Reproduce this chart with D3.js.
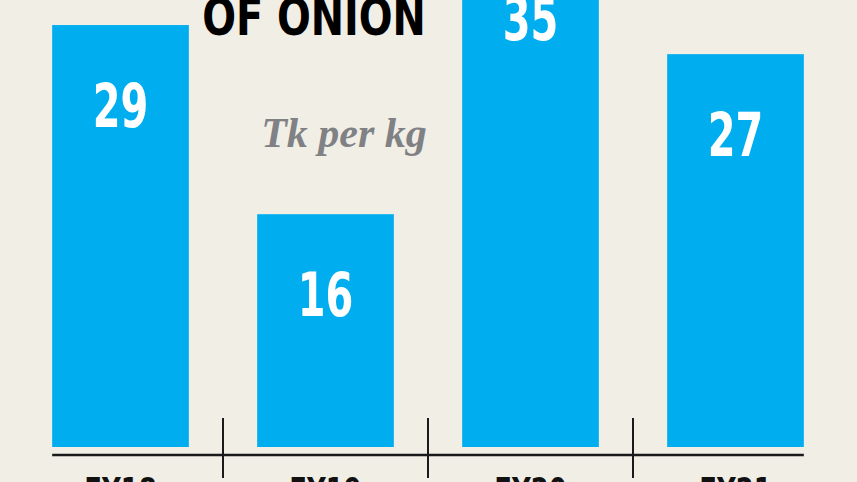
<!DOCTYPE html>
<html>
<head>
<meta charset="utf-8">
<script src="https://cdn.jsdelivr.net/npm/d3@7"></script>
<style>
  body { margin: 0; background: #f1eee6; }
  svg { display: block; }
</style>
</head>
<body>
<svg id="chart" width="857" height="482"></svg>
<script>
// price of onion, Tk per kg
var years = ["FY18", "FY19", "FY20", "FY21"]
var prices = [29, 16, 35, 27]

var width = 857
var height = 482
var base = 447

var condensed = "'Liberation Sans Narrow', 'DejaVu Sans Condensed', sans-serif"

var svg = d3.select("#chart")

svg.append("rect")
  .attr("width", width)
  .attr("height", height)
  .attr("fill", "#f1eee6")

var x = d3.scaleBand()
  .domain(years)
  .range([18, 838])
  .paddingInner(1 / 3)
  .paddingOuter(1 / 6)

var y = d3.scaleLinear()
  .domain([0, 35])
  .range([base, base - 35 * 14.55])

var data = years.map(function(d, i) {
  return { year: d, price: prices[i] }
})

// bars
svg.selectAll(".bar")
  .data(data)
  .enter()
  .append("rect")
  .attr("class", "bar")
  .attr("x", function(d) { return x(d.year) })
  .attr("y", function(d) { return y(d.price) })
  .attr("width", x.bandwidth())
  .attr("height", function(d) { return base - y(d.price) })
  .attr("fill", "#00aeef")

// value labels inside bars, squeezed to look like a condensed face
svg.selectAll(".val")
  .data(data)
  .enter()
  .append("text")
  .attr("class", "val")
  .attr("transform", function(d) {
    return "translate(" + (x(d.year) + x.bandwidth() / 2) + "," + (y(d.price) + 102) + ") scale(0.74,1)"
  })
  .attr("text-anchor", "middle")
  .style("font-family", condensed)
  .style("font-weight", "bold")
  .style("font-size", "60px")
  .attr("fill", "#ffffff")
  .text(function(d) { return d.price })

// baseline
svg.append("line")
  .attr("x1", x(years[0]))
  .attr("x2", x(years[3]) + x.bandwidth())
  .attr("y1", 455)
  .attr("y2", 455)
  .attr("stroke", "#1a1a1a")
  .attr("stroke-width", 2.5)

// separators between years
svg.selectAll(".sep")
  .data(years.slice(1))
  .enter()
  .append("line")
  .attr("class", "sep")
  .attr("x1", function(d) { return x(d) - x.step() * x.paddingInner() / 2 })
  .attr("x2", function(d) { return x(d) - x.step() * x.paddingInner() / 2 })
  .attr("y1", 418)
  .attr("y2", 478)
  .attr("stroke", "#1a1a1a")
  .attr("stroke-width", 2)

// year labels (mostly cut off at the bottom)
svg.selectAll(".yr")
  .data(years)
  .enter()
  .append("text")
  .attr("class", "yr")
  .attr("transform", function(d) {
    return "translate(" + (x(d) + x.bandwidth() / 2) + ",503) scale(0.8,1)"
  })
  .attr("text-anchor", "middle")
  .style("font-family", condensed)
  .style("font-weight", "bold")
  .style("font-size", "36px")
  .attr("fill", "#111")
  .text(function(d) { return d })

// title (top line cut off)
svg.append("text")
  .attr("transform", "translate(314,35) scale(0.85,1)")
  .attr("text-anchor", "middle")
  .style("font-family", condensed)
  .style("font-weight", "bold")
  .style("font-size", "52px")
  .attr("fill", "#000")
  .text("OF ONION")

svg.append("text")
  .attr("x", 344)
  .attr("y", 147)
  .attr("text-anchor", "middle")
  .style("font-family", "'Liberation Serif', 'DejaVu Serif', serif")
  .style("font-style", "italic")
  .style("font-weight", "bold")
  .style("font-size", "42px")
  .attr("fill", "#808185")
  .text("Tk per kg")
</script>
</body>
</html>
